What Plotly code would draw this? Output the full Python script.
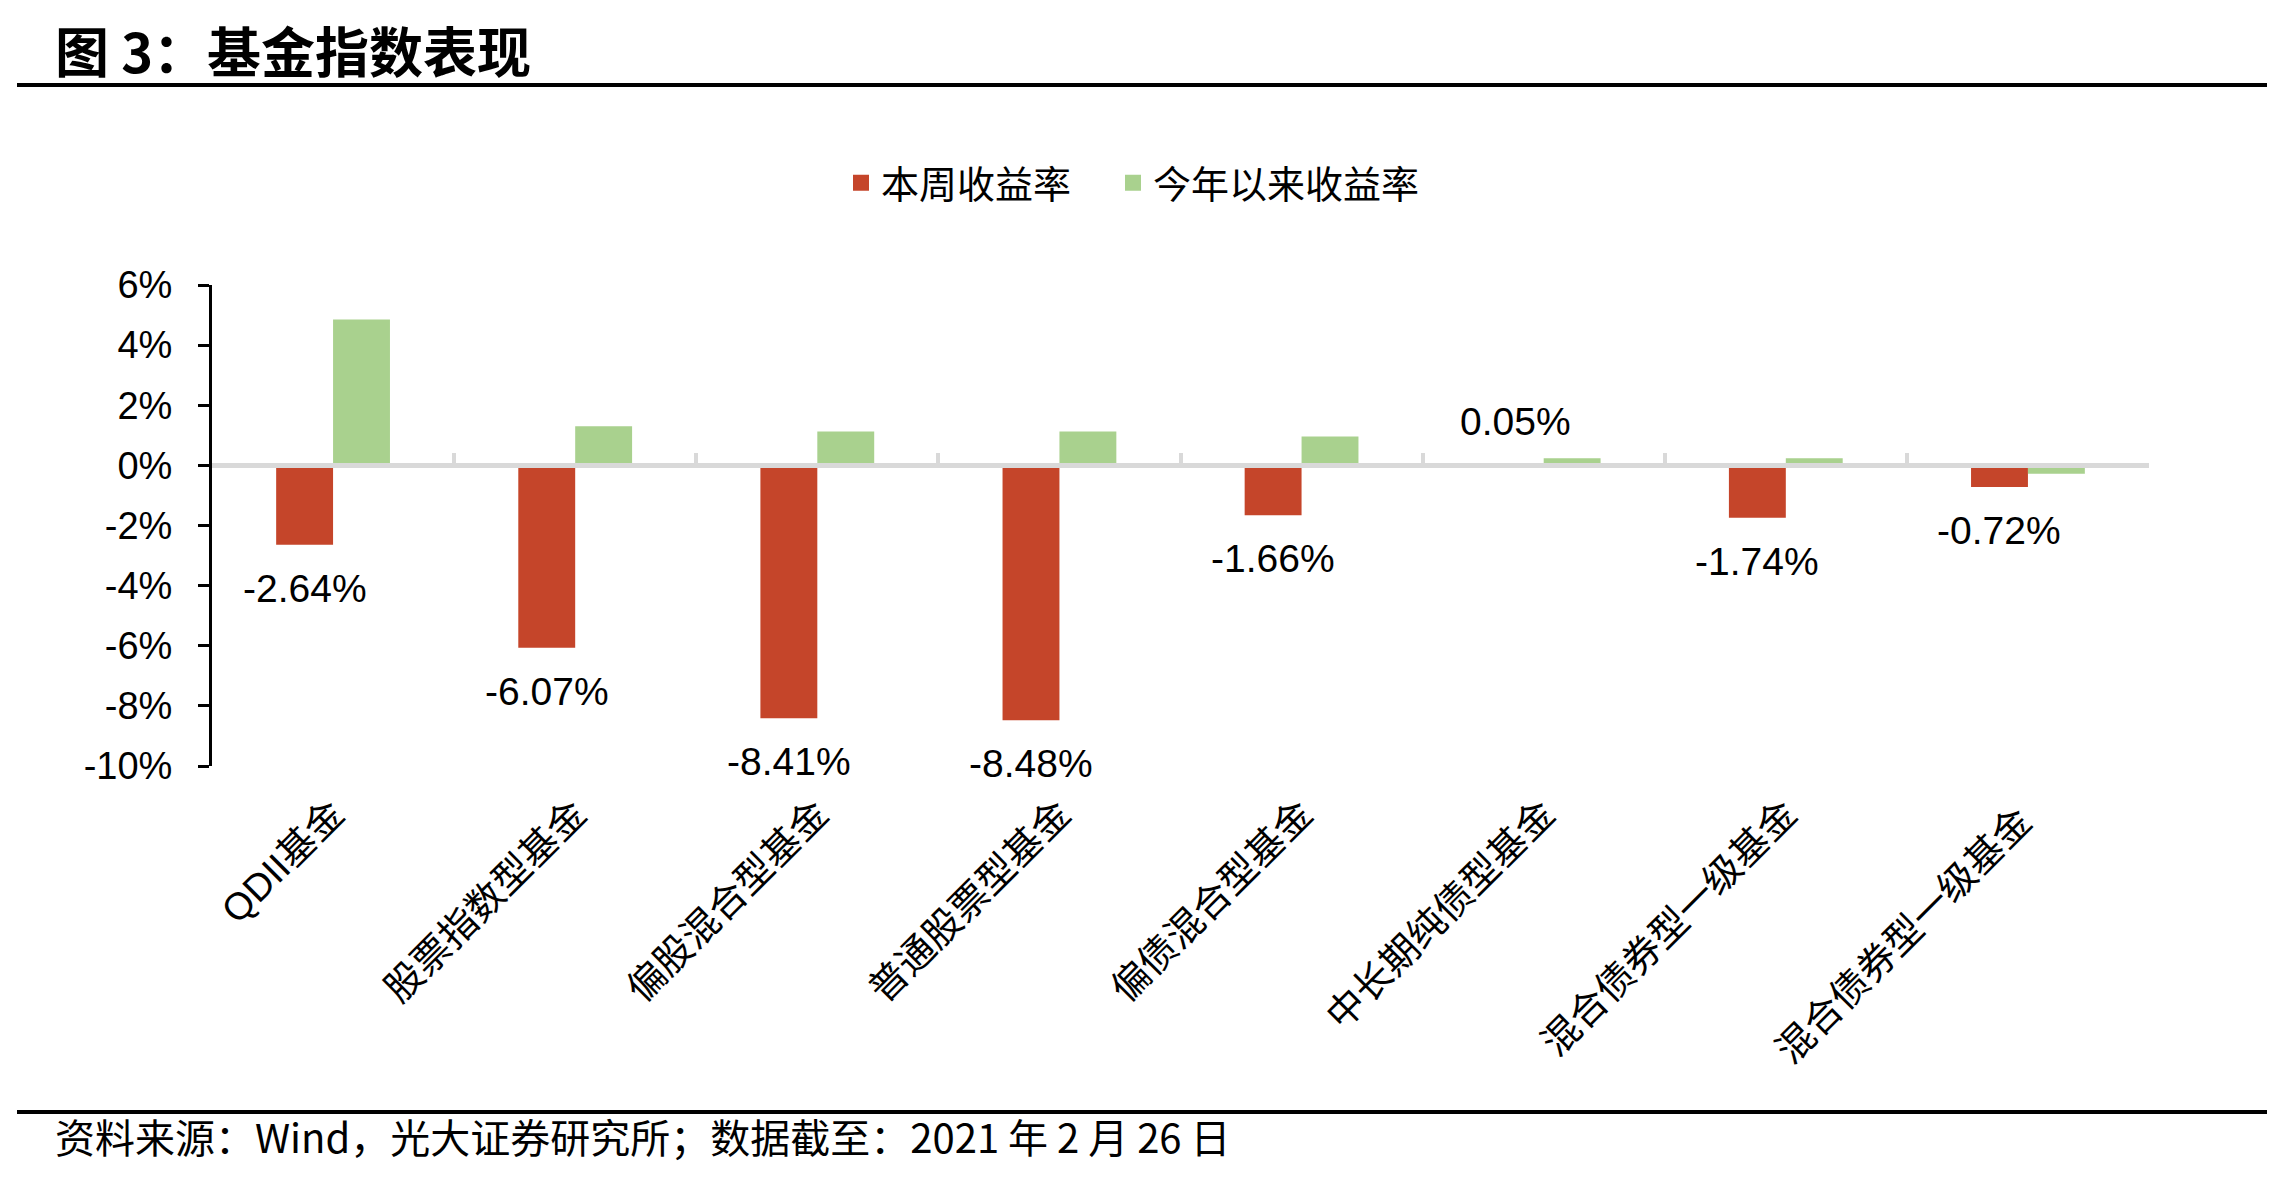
import plotly.graph_objects as go

# ---------------- data ----------------
categories = ["QDII基金", "股票指数型基金", "偏股混合型基金", "普通股票型基金",
              "偏债混合型基金", "中长期纯债型基金", "混合债券型一级基金", "混合债券型一级基金 "]
weekly_return = [-2.64, -6.07, -8.41, -8.48, -1.66, 0.05, -1.74, -0.72]
ytd_return = [4.85, 1.30, 1.13, 1.13, 0.96, 0.24, 0.24, -0.28]
series_names = ["本周收益率", "今年以来收益率"]
y_tickvals = [-10, -8, -6, -4, -2, 0, 2, 4, 6]
y_ticktext = ["-10%", "-8%", "-6%", "-4%", "-2%", "0%", "2%", "4%", "6%"]

title_text = "图 3：基金指数表现"
source_text = "资料来源：Wind，光大证券研究所；数据截至：2021 年 2 月 26 日"

# ---------------- style ----------------
W, H = 2275, 1177
ML, MR, MT, MB = 204, 134, 277, 419
PW, PH = W - ML - MR, H - MT - MB
RED = "#C5452A"
GREEN = "#A9D18E"
AXGRAY = "#D9D9D9"
NUM_FONT = "Liberation Sans, Arial, Noto Sans CJK SC, sans-serif"
CJK_FONT = "Noto Sans CJK SC, sans-serif"
YMIN, YMAX = y_tickvals[0], y_tickvals[-1]
BARGAP = 0.53


def px_x(px):
    return (px - ML) / PW


def px_y(py):
    return (H - MB - py) / PH


fig = go.Figure()

fig.add_trace(go.Bar(x=categories, y=weekly_return, name=series_names[0],
                     marker=dict(color=RED, line=dict(width=0)), showlegend=False,
                     hoverinfo="skip"))
fig.add_trace(go.Bar(x=categories, y=ytd_return, name=series_names[1],
                     marker=dict(color=GREEN, line=dict(width=0)), showlegend=False,
                     hoverinfo="skip"))

# legend entries (one legend each, so they can be spaced like the original)
fig.add_trace(go.Scatter(x=[None], y=[None], mode="markers", name=series_names[0],
                         marker=dict(symbol="square", size=16, color=RED),
                         legend="legend"))
fig.add_trace(go.Scatter(x=[None], y=[None], mode="markers", name=series_names[1],
                         marker=dict(symbol="square", size=16, color=GREEN),
                         legend="legend2"))

# helper trace so the zero-positioned category axis gets drawn
fig.add_trace(go.Scatter(x=categories, y=[None] * len(categories), xaxis="x2",
                         mode="markers", showlegend=False, hoverinfo="skip"))

# data labels for weekly return
bar_px = PW / len(categories) * (1 - BARGAP) / 2
for c, v in zip(categories, weekly_return):
    fig.add_annotation(x=c, y=v, xref="x", yref="y", text=f"{v:.2f}%",
                       showarrow=False, xshift=-bar_px / 2,
                       yanchor="bottom" if v >= 0 else "top",
                       yshift=19 if v >= 0 else -20,
                       font=dict(family=NUM_FONT, size=39, color="black"))

# title
fig.add_annotation(x=px_x(45), y=px_y(41), xref="paper", yref="paper",
                   text=f"<b>{title_text}</b>", showarrow=False,
                   xanchor="left", yanchor="middle",
                   font=dict(family=CJK_FONT, size=54, color="black"))

# source note
fig.add_annotation(x=px_x(45), y=px_y(1128), xref="paper", yref="paper",
                   text=source_text, showarrow=False, xanchor="left", yanchor="middle",
                   font=dict(family=CJK_FONT, size=40, color="black"))

# rule lines
for yy in (77, 1104):
    fig.add_shape(type="line", xref="paper", yref="paper",
                  x0=px_x(9), x1=px_x(2262), y0=px_y(yy), y1=px_y(yy),
                  line=dict(color="black", width=4))

legend_style = dict(orientation="h", xanchor="left", y=px_y(175), yanchor="middle",
                    font=dict(family=CJK_FONT, size=38, color="black"),
                    itemwidth=30, bgcolor="rgba(0,0,0,0)")

fig.update_layout(
    width=W, height=H,
    margin=dict(l=ML, r=MR, t=MT, b=MB, autoexpand=False),
    paper_bgcolor="white", plot_bgcolor="white",
    barmode="group", bargap=BARGAP, bargroupgap=0,
    legend=dict(x=px_x(833), **legend_style),
    legend2=dict(x=px_x(1105), **legend_style),
    xaxis=dict(type="category", showline=False, ticks="", showgrid=False,
               zeroline=False, tickangle=-45, ticklabelstandoff=17,
               tickfont=dict(family=NUM_FONT, size=38, color="black")),
    xaxis2=dict(type="category", matches="x", overlaying="x", anchor="free",
                position=(0 - YMIN) / (YMAX - YMIN), side="bottom",
                showline=True, linecolor=AXGRAY, linewidth=5,
                ticks="inside", tickson="boundaries", ticklen=10, tickwidth=4,
                tickcolor=AXGRAY, showticklabels=False, showgrid=False, zeroline=False),
    yaxis=dict(range=[YMIN, YMAX], tickvals=y_tickvals, ticktext=y_ticktext,
               showline=True, linecolor="black", linewidth=3,
               ticks="outside", ticklen=11, tickwidth=3, tickcolor="black",
               showgrid=False, zeroline=False, ticklabelstandoff=18,
               tickfont=dict(family=NUM_FONT, size=38, color="black")),
)

fig.write_html("out.html")
